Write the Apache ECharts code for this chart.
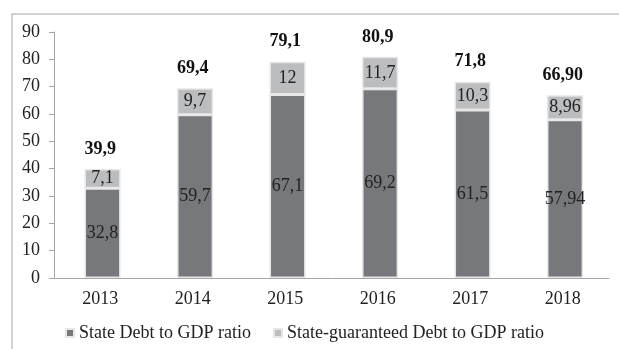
<!DOCTYPE html>
<html>
<head>
<meta charset="utf-8">
<script src="https://cdn.jsdelivr.net/npm/echarts@6/dist/echarts.min.js"></script>
<style>
	html, body { margin: 0; padding: 0; background: #fff; }
	#chart-container { width: 619px; height: 349px; }
</style>
</head>
<body>
<div id="chart-container"></div>
<script>
const years = ['2013', '2014', '2015', '2016', '2017', '2018'];
const stateDebt = [32.8, 59.7, 67.1, 69.2, 61.5, 57.94];
const guaranteedDebt = [7.1, 9.7, 12, 11.7, 10.3, 8.96];
const totalLabels = ['39,9', '69,4', '79,1', '80,9', '71,8', '66,90'];
const yTicks = [0, 10, 20, 30, 40, 50, 60, 70, 80, 90];

const font = "'Liberation Serif', 'Times New Roman', serif";
const fs = 18;
const comma = v => String(v).replace('.', ',');
const totals = stateDebt.map((v, i) => +(v + guaranteedDebt[i]).toFixed(2));

const chart = echarts.init(document.getElementById('chart-container'), null, {renderer: 'canvas'});

chart.setOption({
	animation: false,
	textStyle: {fontFamily: font},
	graphic: [{
		type: 'rect',
		shape: {x: 12, y: 14, width: 700, height: 400},
		style: {fill: 'none', stroke: '#c4c4c4', lineWidth: 1.5},
		silent: true,
	}],
	grid: {left: 54, right: 10, top: 32, bottom: 71},
	legend: {
		top: 324,
		left: 65,
		padding: 0,
		itemWidth: 8,
		itemHeight: 8,
		itemGap: 22,
		icon: 'rect',
		textStyle: {fontFamily: font, fontSize: fs, color: '#222'},
		data: ['State Debt to GDP ratio', 'State-guaranteed Debt to GDP ratio'],
	},
	xAxis: {
		type: 'category',
		data: years,
		axisLine: {lineStyle: {color: '#a6a6a6'}},
		axisTick: {length: 5, lineStyle: {color: '#a6a6a6'}},
		axisLabel: {fontFamily: font, fontSize: fs, color: '#222', margin: 12},
	},
	yAxis: {
		type: 'value',
		min: yTicks[0],
		max: yTicks[yTicks.length - 1],
		interval: 10,
		splitLine: {show: false},
		axisLine: {show: true, lineStyle: {color: '#a6a6a6'}},
		axisTick: {show: true, length: 5, lineStyle: {color: '#a6a6a6'}},
		axisLabel: {fontFamily: font, fontSize: fs, color: '#222', margin: 14},
	},
	series: [
		{
			name: 'State Debt to GDP ratio',
			type: 'bar',
			stack: 'debt',
			barWidth: '39%',
			data: stateDebt,
			itemStyle: {color: '#77787b', borderColor: '#e6e6e6', borderWidth: 1.5},
			label: {
				show: true,
				position: 'inside',
				fontFamily: font,
				fontSize: fs,
				color: '#222',
				formatter: p => comma(p.value),
			},
		},
		{
			name: 'State-guaranteed Debt to GDP ratio',
			type: 'bar',
			stack: 'debt',
			data: guaranteedDebt,
			itemStyle: {color: '#bcbdbf', borderColor: '#e6e6e6', borderWidth: 1.5},
			label: {
				show: true,
				position: 'inside',
				fontFamily: font,
				fontSize: fs,
				color: '#222',
				formatter: p => comma(p.value),
			},
		},
		{
			name: 'Total',
			type: 'bar',
			barGap: '-100%',
			data: totals,
			silent: true,
			z: 1,
			itemStyle: {color: 'transparent'},
			label: {
				show: true,
				position: 'top',
				distance: 11,
				fontFamily: font,
				fontSize: fs,
				fontWeight: 'bold',
				color: '#111',
				formatter: p => totalLabels[p.dataIndex],
			},
		},
	],
});
</script>
</body>
</html>
